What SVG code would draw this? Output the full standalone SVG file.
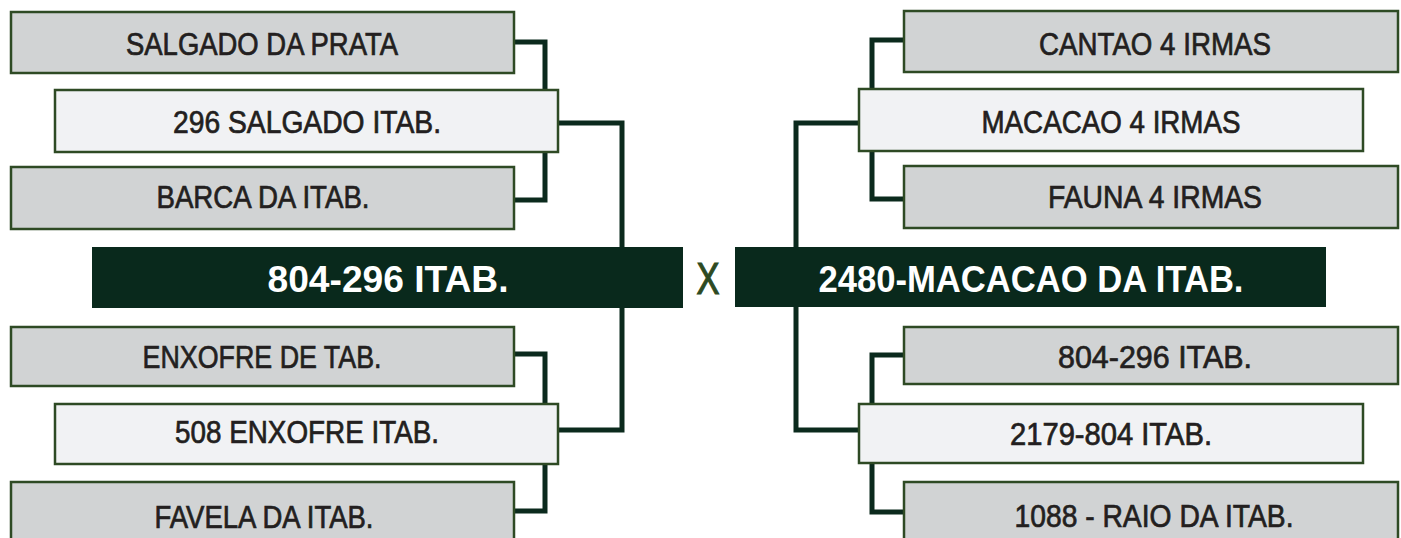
<svg xmlns="http://www.w3.org/2000/svg" width="1401" height="538" viewBox="0 0 1401 538">
<style>
.grey{fill:#d1d3d4;stroke:#2e4a24;stroke-width:2.5}
.light{fill:#f1f2f4;stroke:#2e4a24;stroke-width:2.5}
.bar{fill:#09291c}
.t{font-family:"Liberation Sans",Arial,sans-serif;font-size:31px;fill:#231f20;stroke:#231f20;stroke-width:0.7;text-anchor:middle}
.tt{font-family:"Liberation Sans",Arial,sans-serif;font-size:37px;font-weight:bold;fill:#ffffff;text-anchor:middle}
.x{font-family:"Liberation Sans",Arial,sans-serif;font-size:45px;fill:#2d4a22;stroke:#2d4a22;stroke-width:1.2;text-anchor:middle}
.c{fill:none;stroke:#0b2a1d;stroke-width:5}
</style>
<rect width="1401" height="538" fill="#ffffff"/>
<g id="connectors">
<path class="c" d="M514,42 H545 V200 H514"/>
<path class="c" d="M558,123 H622 V430 H558"/>
<path class="c" d="M514,354 H545 V511 H514"/>
<path class="c" d="M904,40 H872 V199 H904"/>
<path class="c" d="M859,123 H796 V430 H859"/>
<path class="c" d="M904,355 H872 V512 H904"/>
</g>
<g id="n-salgado-prata"><rect class="grey" x="11" y="12" width="503" height="61"/><text class="t" x="262" y="55" textLength="272" lengthAdjust="spacingAndGlyphs">SALGADO DA PRATA</text></g>
<g id="n-296-salgado"><rect class="light" x="55" y="90" width="503" height="62"/><text class="t" x="307" y="133" textLength="268" lengthAdjust="spacingAndGlyphs">296 SALGADO ITAB.</text></g>
<g id="n-barca"><rect class="grey" x="11" y="167" width="503" height="62"/><text class="t" x="263" y="208" textLength="213" lengthAdjust="spacingAndGlyphs">BARCA DA ITAB.</text></g>
<g id="n-804-296"><rect class="bar" x="92" y="247" width="591" height="61"/><text class="tt" x="388" y="292" textLength="241" lengthAdjust="spacingAndGlyphs">804-296 ITAB.</text></g>
<g id="n-enxofre-tab"><rect class="grey" x="11" y="327" width="503" height="59"/><text class="t" x="262" y="368" textLength="239" lengthAdjust="spacingAndGlyphs">ENXOFRE DE TAB.</text></g>
<g id="n-508-enxofre"><rect class="light" x="55" y="404" width="503" height="60"/><text class="t" x="307" y="443" textLength="264" lengthAdjust="spacingAndGlyphs">508 ENXOFRE ITAB.</text></g>
<g id="n-favela"><rect class="grey" x="11" y="482" width="503" height="62"/><text class="t" x="264" y="528" textLength="219" lengthAdjust="spacingAndGlyphs">FAVELA DA ITAB.</text></g>
<g id="vs"><text class="x" x="708" y="294" textLength="23" lengthAdjust="spacingAndGlyphs">X</text></g>
<g id="n-cantao"><rect class="grey" x="904" y="11" width="494" height="61"/><text class="t" x="1155" y="55" textLength="232" lengthAdjust="spacingAndGlyphs">CANTAO 4 IRMAS</text></g>
<g id="n-macacao-4"><rect class="light" x="859" y="89" width="504" height="62"/><text class="t" x="1111" y="133" textLength="259" lengthAdjust="spacingAndGlyphs">MACACAO 4 IRMAS</text></g>
<g id="n-fauna"><rect class="grey" x="904" y="166" width="494" height="62"/><text class="t" x="1155" y="208" textLength="214" lengthAdjust="spacingAndGlyphs">FAUNA 4 IRMAS</text></g>
<g id="n-2480"><rect class="bar" x="735" y="247" width="591" height="60"/><text class="tt" x="1031" y="292" textLength="425" lengthAdjust="spacingAndGlyphs">2480-MACACAO DA ITAB.</text></g>
<g id="n-804-296-r"><rect class="grey" x="904" y="327" width="494" height="57"/><text class="t" x="1155" y="368" textLength="194" lengthAdjust="spacingAndGlyphs">804-296 ITAB.</text></g>
<g id="n-2179"><rect class="light" x="859" y="404" width="504" height="59"/><text class="t" x="1111" y="445" textLength="202" lengthAdjust="spacingAndGlyphs">2179-804 ITAB.</text></g>
<g id="n-1088"><rect class="grey" x="904" y="482" width="494" height="62"/><text class="t" x="1154" y="527" textLength="279" lengthAdjust="spacingAndGlyphs">1088 - RAIO DA ITAB.</text></g>
</svg>
